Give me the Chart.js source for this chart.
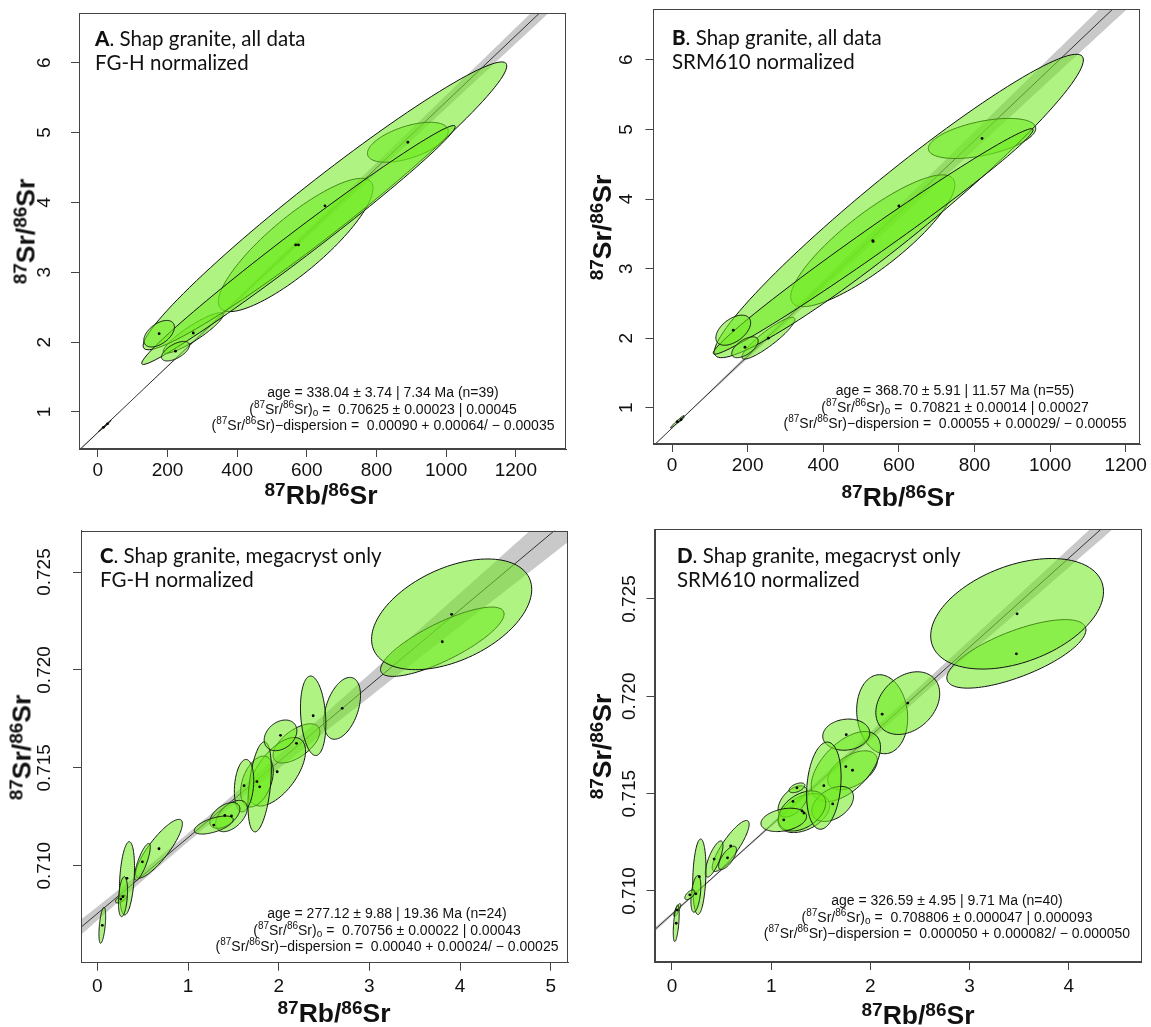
<!DOCTYPE html>
<html>
<head>
<meta charset="utf-8">
<script src="https://cdn.jsdelivr.net/npm/chart.js@4.4.1/dist/chart.umd.min.js"></script>
<style>
  body { margin: 0; background: #fff; }
  #wrap { position: relative; width: 1151px; height: 1027px; overflow: hidden; }
  canvas { position: absolute; }
  .ttl { position: absolute; font-family: Lato, "Open Sans", sans-serif; font-size: 20.5px; line-height: 24px; color: #111; white-space: nowrap; }
  .ttl b { font-weight: 900; }
  .note { position: absolute; width: 400px; margin-left: -200px; font-family: "Liberation Sans", Arial, sans-serif; font-size: 14px; line-height: 16.5px; text-align: center; color: #111; white-space: nowrap; }
  .note sup { font-size: 10px; position: relative; top: -1px; vertical-align: 5px; line-height: 0; }
  .note sub { font-size: 10px; vertical-align: -2px; line-height: 0; }
  .xt, .yt { position: absolute; width: 200px; margin-left: -100px; text-align: center; font: bold 26.5px "Liberation Sans", Arial, sans-serif; line-height: 27px; color: #111; white-space: nowrap; }
  .yt { height: 27px; margin-top: -13.5px; transform: rotate(-90deg); }
  .s { font-size: 19px; position: relative; top: -8px; }
</style>
</head>
<body>
<div id="wrap">
  <canvas id="cA" width="575" height="520" style="left:0;top:0"></canvas>
  <canvas id="cB" width="576" height="520" style="left:575px;top:0"></canvas>
  <canvas id="cC" width="575" height="507" style="left:0;top:520px"></canvas>
  <canvas id="cD" width="576" height="507" style="left:575px;top:520px"></canvas>

  <div class="ttl" style="left:95px;top:26px"><b>A</b>. Shap granite, all data<br>FG-H normalized</div>
  <div class="ttl" style="left:672px;top:25px"><b>B</b>. Shap granite, all data<br>SRM610 normalized</div>
  <div class="ttl" style="left:100px;top:543px"><b>C</b>. Shap granite, megacryst only<br>FG-H normalized</div>
  <div class="ttl" style="left:677px;top:543px"><b>D</b>. Shap granite, megacryst only<br>SRM610 normalized</div>

  <div class="note" style="left:383px;top:384px">age = 338.04 ± 3.74 | 7.34 Ma (n=39)<br>(<sup>87</sup>Sr/<sup>86</sup>Sr)<sub>o</sub> =&nbsp; 0.70625 ± 0.00023 | 0.00045<br>(<sup>87</sup>Sr/<sup>86</sup>Sr)−dispersion =&nbsp; 0.00090 + 0.00064/ − 0.00035</div>
  <div class="note" style="left:955px;top:382px">age = 368.70 ± 5.91 | 11.57 Ma (n=55)<br>(<sup>87</sup>Sr/<sup>86</sup>Sr)<sub>o</sub> =&nbsp; 0.70821 ± 0.00014 | 0.00027<br>(<sup>87</sup>Sr/<sup>86</sup>Sr)−dispersion =&nbsp; 0.00055 + 0.00029/ − 0.00055</div>
  <div class="note" style="left:387px;top:905px">age = 277.12 ± 9.88 | 19.36 Ma (n=24)<br>(<sup>87</sup>Sr/<sup>86</sup>Sr)<sub>o</sub> =&nbsp; 0.70756 ± 0.00022 | 0.00043<br>(<sup>87</sup>Sr/<sup>86</sup>Sr)−dispersion =&nbsp; 0.00040 + 0.00024/ − 0.00025</div>
  <div class="note" style="left:947px;top:892px">age = 326.59 ± 4.95 | 9.71 Ma (n=40)<br>(<sup>87</sup>Sr/<sup>86</sup>Sr)<sub>o</sub> =&nbsp; 0.708806 ± 0.000047 | 0.000093<br>(<sup>87</sup>Sr/<sup>86</sup>Sr)−dispersion =&nbsp; 0.000050 + 0.000082/ − 0.000050</div>

  <div class="xt" style="left:321px;top:482px"><span class="s">87</span>Rb/<span class="s">86</span>Sr</div>
  <div class="xt" style="left:898px;top:484px"><span class="s">87</span>Rb/<span class="s">86</span>Sr</div>
  <div class="xt" style="left:334px;top:1000px"><span class="s">87</span>Rb/<span class="s">86</span>Sr</div>
  <div class="xt" style="left:918px;top:1002px"><span class="s">87</span>Rb/<span class="s">86</span>Sr</div>

  <div class="yt" style="left:26px;top:231px"><span class="s">87</span>Sr/<span class="s">86</span>Sr</div>
  <div class="yt" style="left:602px;top:227px"><span class="s">87</span>Sr/<span class="s">86</span>Sr</div>
  <div class="yt" style="left:22px;top:747px"><span class="s">87</span>Sr/<span class="s">86</span>Sr</div>
  <div class="yt" style="left:602px;top:746px"><span class="s">87</span>Sr/<span class="s">86</span>Sr</div>
</div>

<script>
// Rb-87 decay constant (1/Myr)
const LAMBDA = 1.3972e-5;

// isochron results per panel A, B, C, D
const fitAge     = [338.04, 368.70, 277.12, 326.59];
const fitAgeErr  = [7.34, 11.57, 19.36, 9.71];
const fitInit    = [0.70625, 0.70821, 0.70756, 0.708806];
const fitInitErr = [0.00023, 0.00014, 0.00022, 0.000047];
const bandPivot  = [100, 0, 1.0, 0.5];

// tick labels
const xTicksAB = [0, 200, 400, 600, 800, 1000, 1200];
const yTicksAB = [1, 2, 3, 4, 5, 6];
const xTicksC  = [0, 1, 2, 3, 4, 5];
const xTicksD  = [0, 1, 2, 3, 4];
const yTicksCD = [0.710, 0.715, 0.720, 0.725];

// error ellipses: centre (x, y), half extent (sx, sy), correlation rho
// A. all data, FG-H
const aX   = [890, 568, 274, 652, 576, 176, 223, 16, 28];
const aY   = [4.86, 3.39, 2.13, 3.95, 3.39, 2.12, 1.87, 0.78, 0.83];
const aSX  = [116, 222, 86, 522, 450, 44, 40, 14, 10];
const aSY  = [0.286, 0.954, 0.29, 2.06, 1.71, 0.19, 0.14, 0.06, 0.05];
const aRho = [0.55, 0.85, 0.9, 0.972, 0.99, 0.5, 0.6, 0.99, 0.98];

// B. all data, SRM610
const bX   = [820, 531, 255, 600, 532, 162, 193, 14, 24];
const bY   = [4.87, 3.40, 2.0, 3.90, 3.39, 2.115, 1.87, 0.80, 0.83];
const bSX  = [142, 217, 70, 488, 423, 46, 35, 18, 8];
const bSY  = [0.288, 0.947, 0.3, 2.18, 1.62, 0.216, 0.15, 0.09, 0.04];
const bRho = [0.5, 0.85, 0.9, 0.962, 0.99, 0.5, 0.6, 0.98, 0.95];

// C. megacryst only, FG-H
const cX   = [3.804, 3.907, 2.700, 2.196, 2.380, 1.983, 1.76, 1.79, 1.618, 2.020, 1.479, 1.406, 1.284, 0.680, 0.497, 0.327, 0.26, 0.283, 0.055];
const cY   = [0.72144, 0.72284, 0.71804, 0.71625, 0.71766, 0.71480, 0.7143, 0.71403, 0.71409, 0.71666, 0.71254, 0.71257, 0.71208, 0.71087, 0.71020, 0.70936, 0.7083, 0.70842, 0.70696];
const cSX  = [0.681, 0.883, 0.202, 0.258, 0.140, 0.313, 0.18, 0.129, 0.107, 0.180, 0.175, 0.166, 0.215, 0.258, 0.087, 0.083, 0.06, 0.05, 0.037];
const cSY  = [0.00177, 0.002826, 0.00158, 0.0010, 0.00203, 0.00175, 0.0013, 0.0023, 0.00134, 0.000783, 0.0008, 0.00066, 0.00046, 0.0015, 0.00094, 0.00187, 0.0002, 0.00102, 0.00092];
const cRho = [0.8, 0.45, 0.42, 0.6, -0.2, 0.6, 0.4, 0.4, 0.2, 0.3, 0.5, 0.5, 0.6, 0.85, 0.8, 0.3, 0.6, 0.3, 0.5];

// D. megacryst only, SRM610
const dX   = [3.472, 3.479, 2.119, 2.377, 1.82, 1.753, 1.757, 1.33, 1.22, 1.62, 1.311, 1.26, 1.531, 1.127, 0.592, 0.56, 0.425, 0.276, 0.241, 0.18, 0.053, 0.043];
const dY   = [0.72218, 0.72424, 0.71908, 0.71965, 0.7162, 0.71639, 0.71803, 0.7140, 0.7146, 0.71447, 0.71411, 0.7153, 0.71541, 0.71365, 0.71231, 0.7117, 0.71164, 0.71073, 0.70985, 0.7098, 0.70902, 0.70834];
const dSX  = [0.701, 0.871, 0.257, 0.322, 0.25, 0.349, 0.237, 0.26, 0.15, 0.21, 0.239, 0.08, 0.174, 0.23, 0.186, 0.09, 0.089, 0.067, 0.05, 0.05, 0.035, 0.03];
const dSY  = [0.00176, 0.00284, 0.00203, 0.00161, 0.0010, 0.0018, 0.0008, 0.001, 0.0008, 0.0009, 0.00103, 0.00025, 0.00224, 0.0006, 0.00131, 0.0006, 0.00093, 0.00194, 0.00094, 0.00025, 0.00033, 0.00094];
const dRho = [0.7, 0.4, -0.1, 0.3, 0.5, 0.55, 0.1, 0.4, 0.5, 0.4, 0.4, 0.5, 0.2, 0.3, 0.85, 0.7, 0.75, 0.2, 0.4, 0.6, 0.8, 0.5];

Chart.defaults.font.family = '"Liberation Sans", Arial, sans-serif';
Chart.defaults.font.size = 19;
Chart.defaults.color = '#111';

const ELLIPSE_FILL = 'rgba(110, 235, 30, 0.55)';

// draws the error ellipses stored on the centres dataset, under the centre dots
const ellipsePlugin = {
  id: 'ellipses',
  beforeDatasetDraw(chart, args) {
    if (args.index !== 0) return;
    const { ctx, chartArea: a, scales: { x, y } } = chart;
    ctx.save();
    ctx.beginPath();
    ctx.rect(a.left, a.top, a.width, a.height);
    ctx.clip();
    chart.data.datasets[0].data.forEach(e => {
      const k = Math.sqrt(1 - e.r * e.r);
      ctx.beginPath();
      for (let i = 0; i <= 120; i++) {
        const t = i / 120 * 2 * Math.PI;
        const px = x.getPixelForValue(e.x + e.sx * Math.cos(t));
        const py = y.getPixelForValue(e.y + e.sy * (e.r * Math.cos(t) + k * Math.sin(t)));
        if (i) ctx.lineTo(px, py); else ctx.moveTo(px, py);
      }
      ctx.closePath();
      ctx.fillStyle = ELLIPSE_FILL;
      ctx.fill();
      ctx.lineWidth = 1;
      ctx.strokeStyle = '#111';
      ctx.stroke();
    });
    ctx.restore();
  }
};

// frame round the plot region
const boxPlugin = {
  id: 'box',
  afterDraw(chart) {
    const { ctx, chartArea: a } = chart;
    ctx.save();
    ctx.strokeStyle = '#444';
    ctx.lineWidth = 1;
    ctx.strokeRect(Math.round(a.left) + 0.5, Math.round(a.top) + 0.5,
                   Math.round(a.width) - 1, Math.round(a.height) - 1);
    ctx.restore();
  }
};

function makePanel(p) {
  const i = p.n;
  const slope = Math.exp(LAMBDA * fitAge[i]) - 1;
  const slopeErr = LAMBDA * Math.exp(LAMBDA * fitAge[i]) * fitAgeErr[i];
  const fitY = x => fitInit[i] + slope * x;
  const half = x => Math.sqrt(fitInitErr[i] ** 2 + (slopeErr * (x - bandPivot[i])) ** 2);

  const xs = [];
  for (let j = 0; j <= 80; j++) xs.push(p.xMin + (p.xMax - p.xMin) * j / 80);

  const centres = p.ex.map((x, j) => ({ x, y: p.ey[j], sx: p.esx[j], sy: p.esy[j], r: p.er[j] }));

  new Chart(document.getElementById(p.id), {
    type: 'line',
    data: {
      datasets: [
        { label: 'centres', data: centres, showLine: false, pointRadius: 1.4,
          pointBackgroundColor: '#000', pointBorderWidth: 0 },
        { label: 'isochron', data: [{ x: p.xMin, y: fitY(p.xMin) }, { x: p.xMax, y: fitY(p.xMax) }],
          borderColor: '#222', borderWidth: 0.9, pointRadius: 0 },
        { label: 'upper', data: xs.map(x => ({ x, y: fitY(x) + half(x) })),
          borderColor: 'rgba(0,0,0,0)', borderWidth: 1, pointRadius: 0,
          fill: '+1', backgroundColor: 'rgba(195,195,195,0.9)' },
        { label: 'lower', data: xs.map(x => ({ x, y: fitY(x) - half(x) })),
          borderColor: 'rgba(0,0,0,0)', borderWidth: 1, pointRadius: 0, fill: false }
      ]
    },
    options: {
      responsive: false,
      animation: false,
      devicePixelRatio: 1,
      layout: { padding: { top: p.padTop, right: p.padRight, left: 0, bottom: 0 } },
      plugins: { legend: { display: false }, tooltip: { enabled: false } },
      scales: {
        x: {
          type: 'linear', min: p.xMin, max: p.xMax,
          afterBuildTicks: s => { s.ticks = p.xTicks.map(v => ({ value: v })); },
          afterFit: s => { s.height = p.xAxisH; s.paddingLeft = 0; s.paddingRight = 0; },
          ticks: { callback: v => String(v), padding: p.xPad, minRotation: 0, maxRotation: 0, autoSkip: false },
          grid: { drawOnChartArea: false, tickLength: 8, tickColor: '#444' },
          border: { color: '#444' }
        },
        y: {
          type: 'linear', min: p.yMin, max: p.yMax,
          afterBuildTicks: s => { s.ticks = p.yTicks.map(v => ({ value: v })); },
          afterFit: s => { s.width = p.yAxisW; s.paddingTop = 0; s.paddingBottom = 0; },
          ticks: { callback: p.yFmt, padding: p.yPad, minRotation: 90, maxRotation: 90,
                   crossAlign: 'center', autoSkip: false },
          grid: { drawOnChartArea: false, tickLength: 8, tickColor: '#444' },
          border: { color: '#444' }
        }
      }
    },
    plugins: [ellipsePlugin, boxPlugin]
  });
}

const intFmt = v => String(v);
const ratioFmt = v => v.toFixed(3);

makePanel({ n: 0, id: 'cA', ex: aX, ey: aY, esx: aSX, esy: aSY, er: aRho,
  xMin: -54, xMax: 1344, yMin: 0.47, yMax: 6.71, xTicks: xTicksAB, yTicks: yTicksAB, yFmt: intFmt,
  padTop: 13, padRight: 9, yAxisW: 79, xAxisH: 71, yPad: 20.7, xPad: 2 });

makePanel({ n: 1, id: 'cB', ex: bX, ey: bY, esx: bSX, esy: bSY, er: bRho,
  xMin: -49.2, xMax: 1238, yMin: 0.48, yMax: 6.73, xTicks: xTicksAB, yTicks: yTicksAB, yFmt: intFmt,
  padTop: 9, padRight: 10.9, yAxisW: 78.4, xAxisH: 76, yPad: 13.7, xPad: 2 });

makePanel({ n: 2, id: 'cC', ex: cX, ey: cY, esx: cSX, esy: cSY, er: cRho,
  xMin: -0.18, xMax: 5.19, yMin: 0.70505, yMax: 0.72711, xTicks: xTicksC, yTicks: yTicksCD, yFmt: ratioFmt,
  padTop: 10.7, padRight: 7, yAxisW: 81, xAxisH: 64.3, yPad: 4.2, xPad: 5 });

makePanel({ n: 3, id: 'cD', ex: dX, ey: dY, esx: dSX, esy: dSY, er: dRho,
  xMin: -0.176, xMax: 4.73, yMin: 0.70635, yMax: 0.72858, xTicks: xTicksD, yTicks: yTicksCD, yFmt: ratioFmt,
  padTop: 9.3, padRight: 9.8, yAxisW: 79.5, xAxisH: 65, yPad: -7.2, xPad: 5 });
</script>
</body>
</html>
